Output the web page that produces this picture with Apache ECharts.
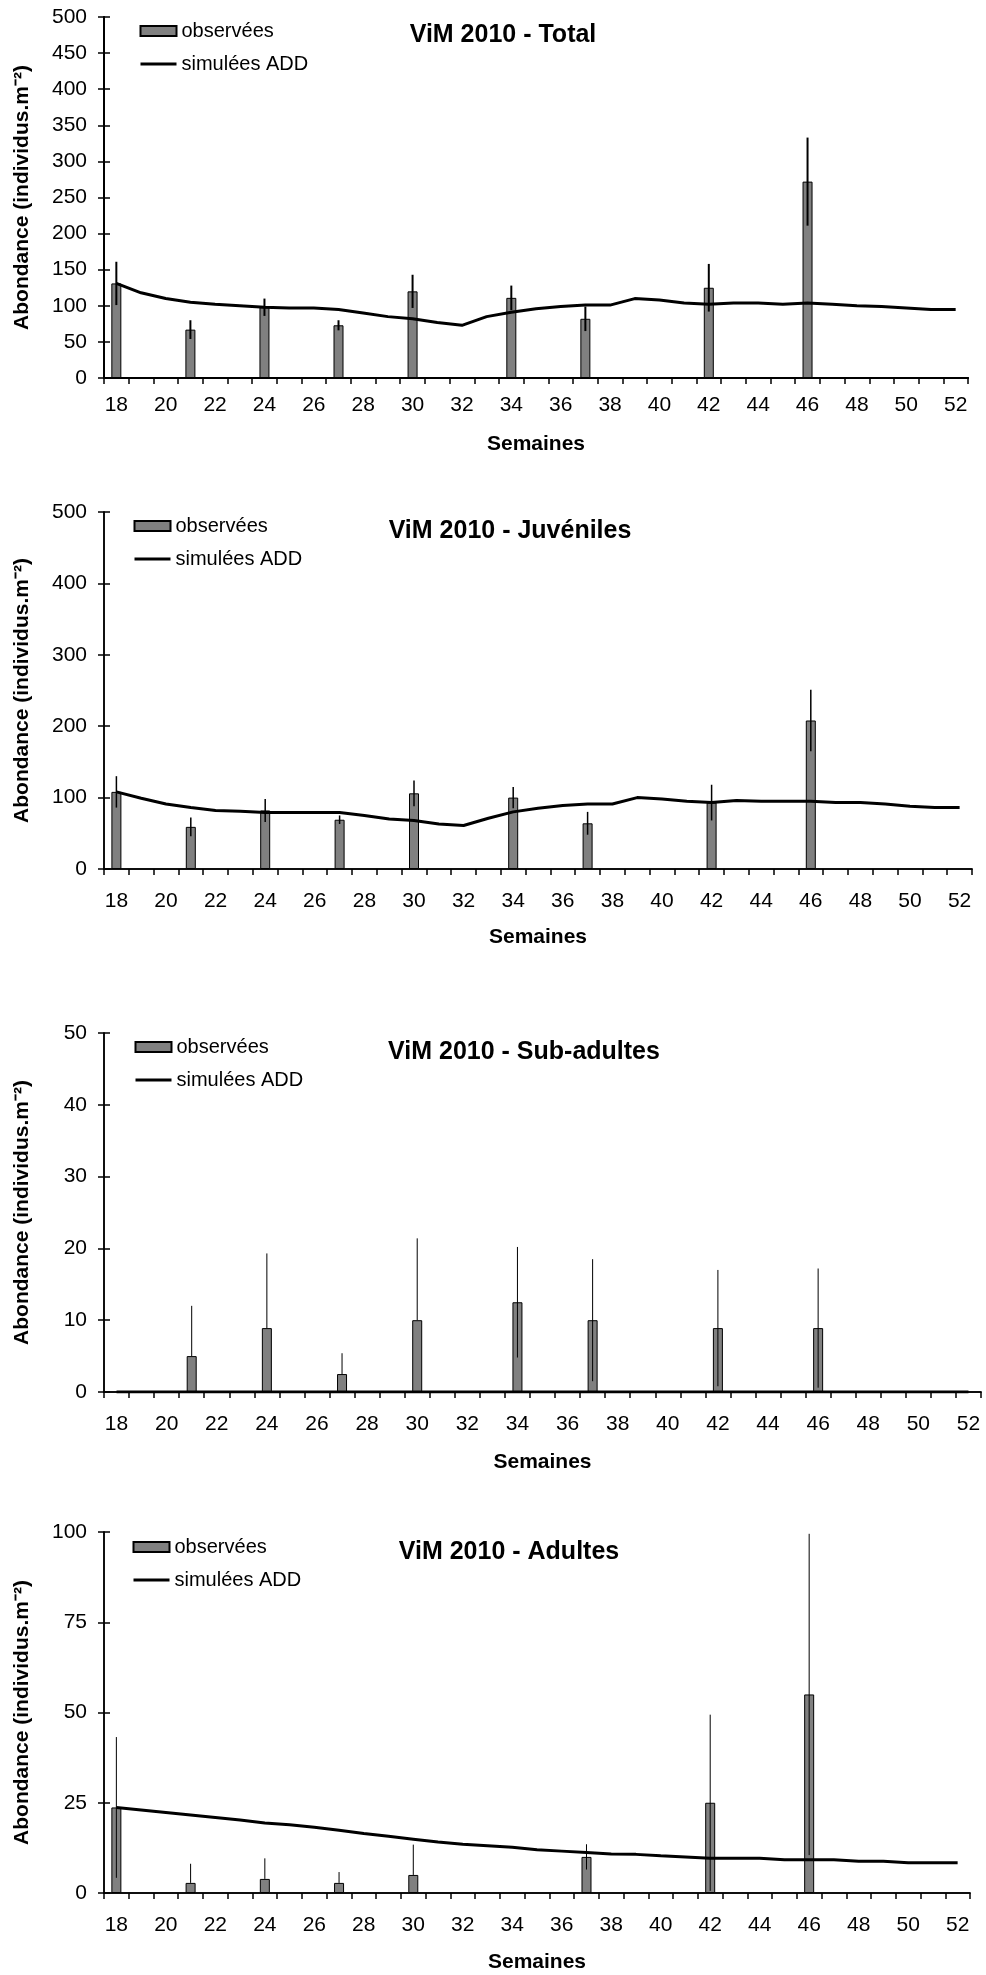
<!DOCTYPE html>
<html>
<head>
<meta charset="utf-8">
<title>ViM 2010</title>
<script src="https://cdn.jsdelivr.net/npm/echarts@6/dist/echarts.min.js"></script>
<style>
  html, body { margin: 0; padding: 0; background: #fff; }
  #chart { width: 986px; height: 1975px; }
</style>
</head>
<body>
<div id="chart"></div>
<script>
// semaines (catégories de l'axe x)
const weeks = [18, 19, 20, 21, 22, 23, 24, 25, 26, 27, 28, 29, 30, 31, 32, 33, 34,
  35, 36, 37, 38, 39, 40, 41, 42, 43, 44, 45, 46, 47, 48, 49, 50, 51, 52];

// semaines échantillonnées
const obsWeeks = [18, 21, 24, 27, 30, 34, 37, 42, 46];

// Total
const obsTotal = [131, 67, 98, 73, 120, 111, 82, 125, 272];
const errTotal = [30, 13, 12, 7, 23, 17, 17, 33, 61];
const simTotal = [131, 118, 110, 105, 102, 100, 98, 97, 97, 95, 90, 85, 82, 77, 73, 85, 91,
  96, 99, 101, 101, 110, 108, 104, 102, 104, 104, 102, 104, 102, 100, 99, 97, 95, 95];

// Juvéniles
const obsJuv = [108, 59, 82, 69, 106, 100, 64, 93, 208];
const errJuv = [22, 13, 16, 6, 18, 15, 16, 25, 43];
const simJuv = [108, 99, 91, 86, 82, 81, 79, 79, 79, 79, 75, 70, 68, 63, 61, 71, 80,
  85, 89, 91, 91, 100, 98, 95, 93, 96, 95, 95, 95, 93, 93, 91, 88, 86, 86];

// Sub-adultes
const obsSub = [0, 5, 8.9, 2.5, 10, 12.5, 10, 8.9, 8.9];
const errSub = [0, 7, 10.4, 2.9, 11.4, 7.7, 8.5, 8.1, 8.3];
const simSub = [0, 0, 0, 0, 0, 0, 0, 0, 0, 0, 0, 0, 0, 0, 0, 0, 0,
  0, 0, 0, 0, 0, 0, 0, 0, 0, 0, 0, 0, 0, 0, 0, 0, 0, 0];

// Adultes
const obsAdu = [23.7, 2.8, 3.9, 2.8, 5, 0, 10, 25, 55];
const errAdu = [19.5, 5.3, 5.7, 3, 8.4, 0, 3.5, 24.4, 44.5];
const simAdu = [23.7, 23, 22.3, 21.6, 20.9, 20.2, 19.4, 18.9, 18.2, 17.4, 16.5, 15.7, 14.9, 14.1, 13.5, 13.1, 12.7,
  12, 11.6, 11.2, 10.8, 10.7, 10.3, 10, 9.6, 9.6, 9.6, 9.2, 9.2, 9.2, 8.8, 8.8, 8.4, 8.4, 8.4];

const FONT = "'Liberation Sans', Arial, sans-serif";
const OBS_NAME = "observées";
const SIM_NAME = "simulées ADD";

const panels = [
  {
    title: "ViM 2010 - Total", obs: obsTotal, err: errTotal, sim: simTotal, max: 500, interval: 50,
    grid: { left: 104, top: 17, width: 864, height: 361 },
    titleX: 503, titleY: 23, legendX: 139, legendY: 21,
    axisWidth: 2, errWidth: 2, labelMargin: 17, nameGap: 56
  },
  {
    title: "ViM 2010 - Juvéniles", obs: obsJuv, err: errJuv, sim: simJuv, max: 500, interval: 100,
    grid: { left: 104, top: 512, width: 868, height: 357 },
    titleX: 510, titleY: 519, legendX: 133, legendY: 516,
    axisWidth: 1.5, errWidth: 1.5, labelMargin: 22, nameGap: 58
  },
  {
    title: "ViM 2010 - Sub-adultes", obs: obsSub, err: errSub, sim: simSub, max: 50, interval: 10,
    grid: { left: 104, top: 1033, width: 877, height: 359 },
    titleX: 524, titleY: 1040, legendX: 134, legendY: 1037,
    axisWidth: 1.5, errWidth: 1, labelMargin: 22, nameGap: 60
  },
  {
    title: "ViM 2010 - Adultes", obs: obsAdu, err: errAdu, sim: simAdu, max: 100, interval: 25,
    grid: { left: 104, top: 1532, width: 866, height: 361 },
    titleX: 509, titleY: 1540, legendX: 132, legendY: 1537,
    axisWidth: 1.5, errWidth: 1, labelMargin: 22, nameGap: 59
  }
];

function barData(panel) {
  return weeks.map((w) => {
    const i = obsWeeks.indexOf(w);
    return i < 0 || !panel.obs[i] ? null : panel.obs[i];
  });
}

function errorData(panel) {
  return obsWeeks
    .map((w, i) => [weeks.indexOf(w), panel.obs[i], panel.err[i]])
    .filter((d) => d[2] > 0);
}

function createXAxes(panel, gridIndex) {
  const lineStyle = { color: "#000", width: panel.axisWidth };
  const base = {
    type: "category",
    gridIndex,
    data: weeks.map(String),
    boundaryGap: true,
    axisLine: { lineStyle },
    axisTick: { show: true, length: 6, interval: 0, lineStyle: { color: "#000", width: 1.5 } },
    splitLine: { show: false }
  };
  return [
    {
      ...base,
      name: "Semaines",
      nameLocation: "middle",
      nameGap: panel.nameGap,
      nameTextStyle: { color: "#000", fontFamily: FONT, fontSize: 21, fontWeight: "bold" },
      axisLabel: { interval: 1, color: "#000", fontFamily: FONT, fontSize: 21, margin: panel.labelMargin }
    },
    {
      ...base,
      axisTick: { ...base.axisTick, inside: true },
      axisLabel: { show: false }
    }
  ];
}

function createYAxes(panel, gridIndex) {
  const base = {
    type: "value",
    gridIndex,
    position: "left",
    offset: 0,
    min: 0,
    max: panel.max,
    interval: panel.interval,
    axisLine: { show: true, lineStyle: { color: "#000", width: panel.axisWidth } },
    axisTick: { show: true, length: 6, lineStyle: { color: "#000", width: 1.5 } },
    splitLine: { show: false }
  };
  return [
    {
      ...base,
      name: "Abondance (individus.m⁻²)",
      nameLocation: "middle",
      nameRotate: 90,
      nameGap: 71,
      nameTextStyle: { color: "#000", fontFamily: FONT, fontSize: 21, fontWeight: "bold" },
      axisLabel: { color: "#000", fontFamily: FONT, fontSize: 21, margin: 17 }
    },
    {
      ...base,
      axisTick: { ...base.axisTick, inside: true },
      axisLabel: { show: false }
    }
  ];
}

function createSeries(panel, k) {
  const axisRef = { xAxisIndex: 2 * k, yAxisIndex: 2 * k };
  return [
    {
      ...axisRef,
      name: OBS_NAME,
      type: "bar",
      barWidth: 10,
      data: barData(panel),
      itemStyle: { color: "#808080", borderColor: "#000", borderWidth: 1 },
      z: 2
    },
    {
      ...axisRef,
      name: "err",
      type: "custom",
      data: errorData(panel),
      z: 3,
      renderItem(params, api) {
        const x = api.value(0);
        const v = api.value(1);
        const e = api.value(2);
        // la partie basse n'est tracée que si elle reste au-dessus de 0
        const lo = v - e < 0 ? v : v - e;
        const p1 = api.coord([x, lo]);
        const p2 = api.coord([x, v + e]);
        return {
          type: "line",
          shape: { x1: p1[0], y1: p1[1], x2: p2[0], y2: p2[1] },
          style: { stroke: "#000", lineWidth: panel.errWidth }
        };
      }
    },
    {
      ...axisRef,
      name: SIM_NAME,
      type: "line",
      data: panel.sim,
      symbol: "none",
      lineStyle: { color: "#000", width: 3 },
      itemStyle: { color: "#000" },
      z: 4
    }
  ];
}

function createOption() {
  return {
    backgroundColor: "#fff",
    animation: false,
    title: panels.map((p) => ({
      text: p.title,
      left: p.titleX,
      top: p.titleY,
      textAlign: "center",
      padding: 0,
      textStyle: { color: "#000", fontFamily: FONT, fontSize: 25, fontWeight: "bold" }
    })),
    legend: panels.map((p) => ({
      data: [
        { name: OBS_NAME, icon: "rect" },
        {
          name: SIM_NAME,
          itemStyle: { color: "rgba(0,0,0,0)", borderColor: "rgba(0,0,0,0)", borderWidth: 0 },
          lineStyle: { color: "#000", width: 3 }
        }
      ],
      orient: "vertical",
      left: p.legendX,
      top: p.legendY,
      padding: 0,
      itemWidth: 36,
      itemHeight: 10,
      itemGap: 13,
      selectedMode: false,
      textStyle: { color: "#000", fontFamily: FONT, fontSize: 20 }
    })),
    grid: panels.map((p) => ({ ...p.grid, containLabel: false })),
    xAxis: panels.flatMap((p, k) => createXAxes(p, k)),
    yAxis: panels.flatMap((p, k) => createYAxes(p, k)),
    series: panels.flatMap((p, k) => createSeries(p, k))
  };
}

const chart = echarts.init(document.getElementById("chart"), null, { renderer: "canvas" });
chart.setOption(createOption());
</script>
</body>
</html>
